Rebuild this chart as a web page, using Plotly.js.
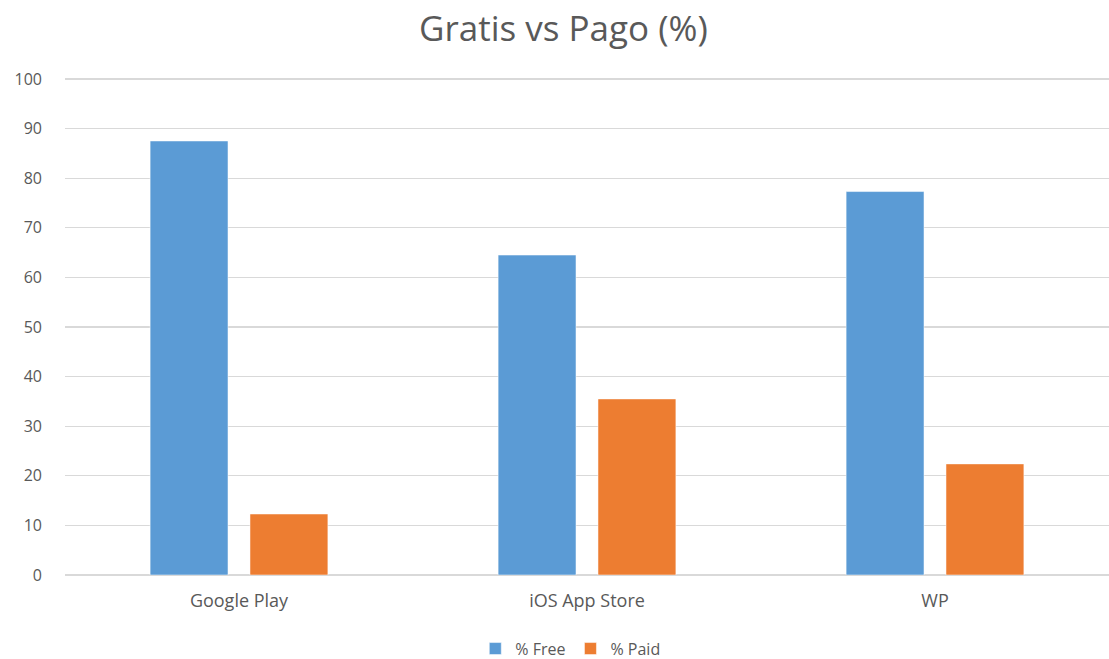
<!DOCTYPE html>
<html>
<head>
<meta charset="utf-8">
<script src="https://cdn.plot.ly/plotly-3.0.1.min.js"></script>
<style>html,body{margin:0;padding:0;background:#fff;}#chart{width:1109px;height:659px;}</style>
</head>
<body>
<div id="chart"></div>
<script>
const categories = ["Google Play", "iOS App Store", "WP"];
const freeValues = [87.5, 64.5, 77.3];
const paidValues = [12.3, 35.5, 22.4];
const seriesNames = ["% Free", "% Paid"];
const yTicks = [0, 10, 20, 30, 40, 50, 60, 70, 80, 90, 100];

const font = "Open Sans, sans-serif";
const traces = [
  {type: "bar", name: seriesNames[0], x: categories, y: freeValues,
   marker: {color: "#5B9BD5", line: {color: "rgba(255,255,255,0.5)", width: 1}}, hoverinfo: "y"},
  {type: "bar", name: seriesNames[1], x: categories, y: paidValues,
   marker: {color: "#ED7D31", line: {color: "rgba(255,255,255,0.5)", width: 1}}, hoverinfo: "y"}
];
const layout = {
  width: 1109, height: 659,
  margin: {l: 65, r: 0, t: 74, b: 84, autoexpand: false},
  paper_bgcolor: "#fff", plot_bgcolor: "#fff",
  title: {text: "Gratis vs Pago (%)", font: {family: font, size: 35, color: "#595959"}, x: 0.508, xanchor: "center", y: 0.957, yanchor: "middle"},
  barmode: "group", bargap: 0.426, bargroupgap: 0.22,
  font: {family: font, color: "#595959"},
  xaxis: {type: "category", showgrid: false, showline: false, zeroline: false, ticks: "", tickfont: {size: 18, color: "#595959"}, ticklabelstandoff: 13},
  yaxis: {range: [0, 101], tickvals: yTicks, ticktext: yTicks.map(String), showgrid: true, gridcolor: "#d9d9d9", gridwidth: 1.3,
          zeroline: true, zerolinecolor: "#d9d9d9", zerolinewidth: 1.3, showline: false, ticks: "", tickfont: {size: 16, color: "#595959"}, ticklabelstandoff: 22},
  showlegend: true,
  legend: {orientation: "h", x: 0.484, xanchor: "center", y: -0.147, yanchor: "middle", font: {size: 16, color: "#595959"}, itemwidth: 30, traceorder: "normal"}
};
Plotly.newPlot("chart", traces, layout, {displayModeBar: false, staticPlot: true});
</script>
</body>
</html>
